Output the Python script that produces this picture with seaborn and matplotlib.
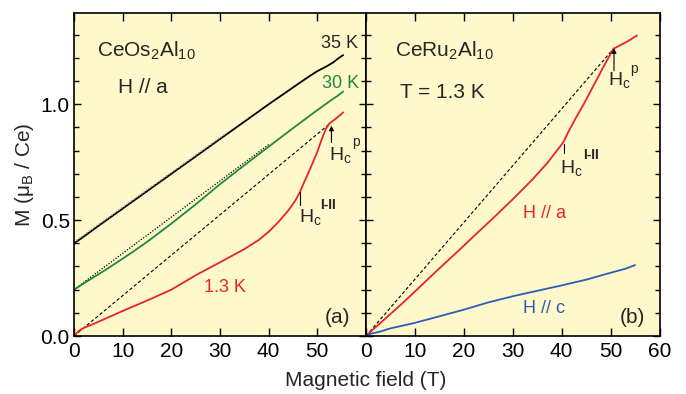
import numpy as np
import pandas as pd
import matplotlib
matplotlib.use("Agg")
import matplotlib.pyplot as plt
from matplotlib.ticker import MultipleLocator, FormatStrFormatter, FixedFormatter, FixedLocator
import seaborn as sns

# ---- magnetization curves, CeOs2Al10 (H // a) ----
os_35K_field = [0, 1, 2, 5, 10, 15, 20, 25, 30, 35, 40, 44, 46.4, 48.5, 50, 52, 53.2, 54.3, 55.3]
os_35K_m = [0.40, 0.414, 0.429, 0.475, 0.55, 0.625, 0.70, 0.775, 0.85, 0.925, 1.0, 1.058, 1.093,
            1.123, 1.143, 1.165, 1.18, 1.198, 1.212]

os_30K_field = [0, 1, 2, 4, 6, 9, 12, 15, 20, 25, 30, 35, 40, 45, 50, 52.6, 54, 55.3]
os_30K_m = [0.20, 0.213, 0.227, 0.253, 0.279, 0.32, 0.362, 0.406, 0.485, 0.568, 0.655, 0.737,
            0.817, 0.897, 0.975, 1.014, 1.034, 1.055]

os_13K_field = [0, 0.5, 1, 2, 4, 7, 10, 13, 16, 20, 25, 30, 35, 38, 40, 42, 44, 45.5, 46.4,
                47.1, 47.8, 49, 50, 51, 51.8, 52.5, 53.5, 54.5, 55.3]
os_13K_m = [0, 0.012, 0.022, 0.035, 0.052, 0.08, 0.108, 0.135, 0.162, 0.20, 0.262, 0.318, 0.375,
            0.415, 0.45, 0.492, 0.541, 0.585, 0.62, 0.655, 0.687, 0.745, 0.795, 0.855, 0.895,
            0.918, 0.933, 0.95, 0.965]

# guide lines in panel (a)
os_guide_origin_field = [0, 52.6]
os_guide_origin_m = [0, 0.917]
os_guide_30K_field = [0, 40]
os_guide_30K_m = [0.20, 0.826]
os_guide_35K_field = [0, 31]
os_guide_35K_m = [0.405, 0.87]

# ---- magnetization curves, CeRu2Al10 (T = 1.3 K) ----
ru_a_field = [0, 1, 2.5, 5, 8, 12, 15, 19, 22, 25.8, 30, 34, 37, 40.3, 41.6, 43, 44.5,
              46.5, 48.5, 50.6, 52, 53.5, 55.4]
ru_a_m = [0, 0.02, 0.048, 0.095, 0.152, 0.232, 0.292, 0.37, 0.43, 0.505, 0.59, 0.675, 0.745,
          0.835, 0.89, 0.945, 1.0, 1.08, 1.16, 1.24, 1.255, 1.272, 1.297]

ru_c_field = [0, 1, 2.9, 5, 9.7, 15, 19.9, 25, 30.1, 35, 39.7, 45, 49.5, 53, 55]
ru_c_m = [0, 0.01, 0.019, 0.033, 0.055, 0.085, 0.113, 0.145, 0.172, 0.195, 0.217, 0.243, 0.27,
          0.29, 0.306]

ru_guide_field = [0, 50.6]
ru_guide_m = [0, 1.24]

# critical fields (T) with marker extents (mu_B / Ce)
os_hc12 = 46.4
os_hc12_span = [0.565, 0.622]
os_hcp = 52.9
os_hcp_span = [0.835, 0.908]
ru_hc12 = 40.5
ru_hc12_span = [0.788, 0.83]
ru_hcp = 50.7
ru_hcp_span = [1.145, 1.242]

x_ticks = [0, 10, 20, 30, 40, 50, 60]
x_ticklabels_a = ["0", "10", "20", "30", "40", "50", ""]
x_ticklabels_b = ["0", "10", "20", "30", "40", "50", "60"]

RED = "#E8232B"
GREEN = "#1F8A3B"
BLUE = "#2A5DB6"
PANEL_BG = "#FFF8CB"

sns.set_style("ticks")
plt.rcParams["font.family"] = ["Liberation Sans", "DejaVu Sans"]
plt.rcParams["mathtext.default"] = "regular"
plt.rcParams["mathtext.fontset"] = "custom"
plt.rcParams["mathtext.rm"] = "Liberation Sans"
plt.rcParams["mathtext.it"] = "Liberation Sans:italic"
plt.rcParams["mathtext.bf"] = "Liberation Sans:bold"

W, H = 686, 394
fig = plt.figure(figsize=(W / 100, H / 100), dpi=100)
fig.patch.set_facecolor("white")

def frac_box(x0, x1, ytop, ybot):
    return [x0 / W, 1 - ybot / H, (x1 - x0) / W, (ybot - ytop) / H]

ax1 = fig.add_axes(frac_box(74, 366, 13, 336))
ax2 = fig.add_axes(frac_box(366, 659.5, 13, 336))

LW = 1.3
for ax in (ax1, ax2):
    ax.set_facecolor(PANEL_BG)
    ax.set_xlim(0, 60)
    ax.set_ylim(0, 1.394)
    ax.xaxis.set_major_locator(FixedLocator(x_ticks))
    ax.yaxis.set_major_locator(MultipleLocator(0.5))
    ax.yaxis.set_minor_locator(MultipleLocator(0.1))
    ax.tick_params(axis="both", which="both", direction="in", top=True, right=True,
                   width=1.0, labelsize=15, colors="black")
    ax.tick_params(axis="x", which="major", length=5.5, pad=4)
    ax.tick_params(axis="y", which="major", length=5, pad=3)
    ax.tick_params(axis="y", which="minor", length=3.5)
    for s in ax.spines.values():
        s.set_linewidth(1.2)
        s.set_color("black")
    ax.grid(False)

ax1.xaxis.set_major_formatter(FixedFormatter(x_ticklabels_a))
ax2.xaxis.set_major_formatter(FixedFormatter(x_ticklabels_b))
ax1.yaxis.set_major_formatter(FormatStrFormatter("%.1f"))
ax2.tick_params(axis="y", which="both", labelleft=False)

# ---- panel (a) ----
ax1.plot(os_guide_origin_field, os_guide_origin_m, color="black", lw=0.8, ls=(0, (3, 2)))
ax1.plot(os_guide_30K_field, os_guide_30K_m, color="black", lw=0.9, ls=(0, (1, 1.3)))
sns.lineplot(x=os_35K_field, y=os_35K_m, ax=ax1, color="black", lw=LW, sort=False)
sns.lineplot(x=os_30K_field, y=os_30K_m, ax=ax1, color=GREEN, lw=LW, sort=False)
sns.lineplot(x=os_13K_field, y=os_13K_m, ax=ax1, color=RED, lw=LW, sort=False)
ax1.plot(os_guide_35K_field, os_guide_35K_m, color="#8a8a8a", lw=1.0, ls=(0, (1, 1.2)))

ax1.text(4.7, 1.205, r"CeOs$_2$Al$_{10}$", fontsize=15, ha="left", va="baseline")
ax1.text(9.0, 1.047, "H // a", fontsize=15, ha="left", va="baseline")
ax1.text(58.4, 1.242, "35 K", fontsize=13, ha="right", va="baseline")
ax1.text(58.5, 1.069, "30 K", fontsize=13, ha="right", va="baseline", color=GREEN)
ax1.text(26.7, 0.191, "1.3 K", fontsize=13, ha="left", va="baseline", color=RED)
ax1.text(51.5, 0.058, "(a)", fontsize=15, ha="left", va="baseline")

ax1.plot([os_hc12, os_hc12], os_hc12_span, color="black", lw=0.8)
ax1.text(46.3, 0.492, r"H$_c$", fontsize=14, ha="left", va="baseline")
ax1.text(50.6, 0.55, "I-II", fontsize=10, fontweight="bold", ha="left", va="baseline")
ax1.annotate("", xy=(os_hcp, os_hcp_span[1]), xytext=(os_hcp, os_hcp_span[0]),
             arrowprops=dict(arrowstyle="-|>", lw=0.8, color="black", mutation_scale=7,
                             shrinkA=0, shrinkB=0))
ax1.text(52.4, 0.76, r"H$_c$", fontsize=14, ha="left", va="baseline")
ax1.text(57.1, 0.82, "p", fontsize=10, ha="left", va="baseline")

ax1.set_ylabel(r"M ($\mu_B$ / Ce)", fontsize=15, labelpad=3)
ax1.set_xlabel("")

# ---- panel (b) ----
ax2.plot(ru_guide_field, ru_guide_m, color="black", lw=0.8, ls=(0, (3, 2)))
sns.lineplot(x=ru_a_field, y=ru_a_m, ax=ax2, color=RED, lw=LW, sort=False)
sns.lineplot(x=ru_c_field, y=ru_c_m, ax=ax2, color=BLUE, lw=LW, sort=False)

ax2.text(5.9, 1.205, r"CeRu$_2$Al$_{10}$", fontsize=15, ha="left", va="baseline")
ax2.text(7.0, 1.026, "T = 1.3 K", fontsize=15, ha="left", va="baseline")
ax2.text(32.0, 0.508, "H // a", fontsize=13, ha="left", va="baseline", color=RED)
ax2.text(32.0, 0.098, "H // c", fontsize=13, ha="left", va="baseline", color=BLUE)
ax2.text(51.9, 0.058, "(b)", fontsize=15, ha="left", va="baseline")

ax2.plot([ru_hc12, ru_hc12], ru_hc12_span, color="black", lw=0.8)
ax2.text(39.6, 0.703, r"H$_c$", fontsize=14, ha="left", va="baseline")
ax2.text(44.3, 0.762, "I-II", fontsize=10, fontweight="bold", ha="left", va="baseline")
ax2.annotate("", xy=(ru_hcp, ru_hcp_span[1]), xytext=(ru_hcp, ru_hcp_span[0]),
             arrowprops=dict(arrowstyle="-|>", lw=0.8, color="black", mutation_scale=7,
                             shrinkA=0, shrinkB=0))
ax2.text(49.5, 1.083, r"H$_c$", fontsize=14, ha="left", va="baseline")
ax2.text(54.1, 1.135, "p", fontsize=10, ha="left", va="baseline")
ax2.set_xlabel("")
ax2.set_ylabel("")

fig.text(366 / W, (H - 386) / H, "Magnetic field (T)", fontsize=15, ha="center", va="baseline")

fig.savefig("out.png", dpi=100, facecolor="white")
